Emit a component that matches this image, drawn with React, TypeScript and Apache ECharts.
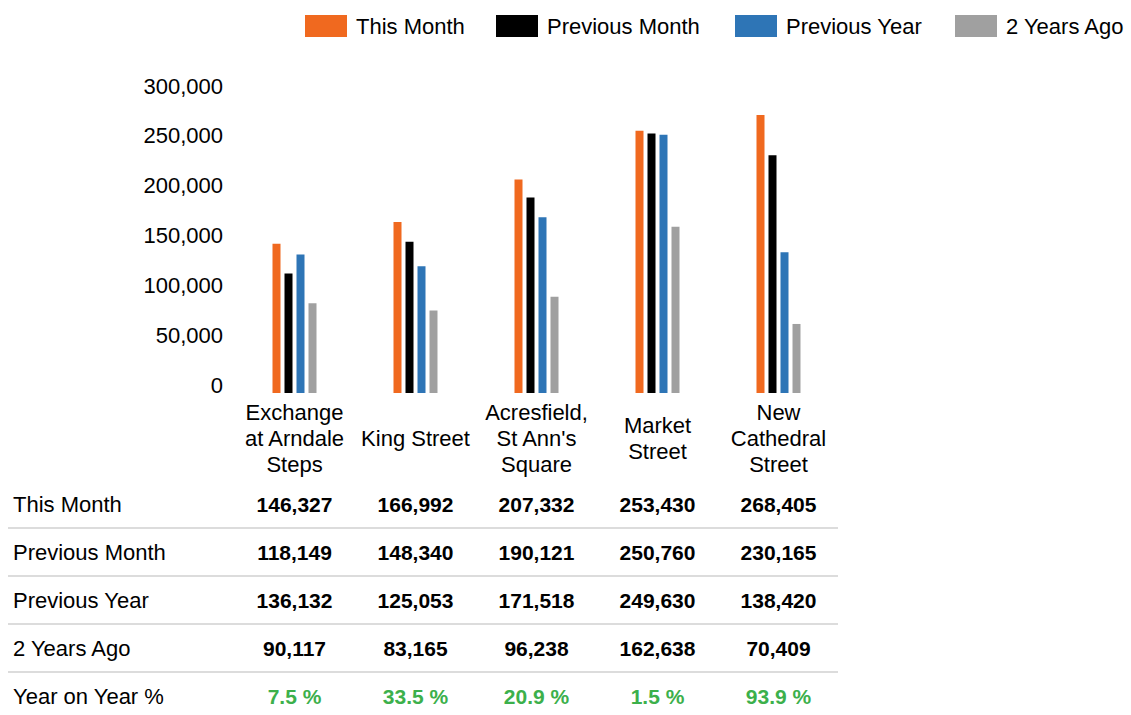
import React, { useEffect, useRef } from "react";
import * as echarts from "echarts";

const categories = [
  "Exchange\nat Arndale\nSteps",
  "King Street",
  "Acresfield,\nSt Ann's\nSquare",
  "Market\nStreet",
  "New\nCathedral\nStreet",
];
const seriesNames = ["This Month", "Previous Month", "Previous Year", "2 Years Ago"];
const thisMonth = [146327, 166992, 207332, 253430, 268405];
const previousMonth = [118149, 148340, 190121, 250760, 230165];
const previousYear = [136132, 125053, 171518, 249630, 138420];
const twoYearsAgo = [90117, 83165, 96238, 162638, 70409];
const yearOnYear = [7.5, 33.5, 20.9, 1.5, 93.9];
const rowLabels = ["This Month", "Previous Month", "Previous Year", "2 Years Ago", "Year on Year %"];

const colors = ["#F0691F", "#000000", "#2E75B6", "#A0A0A0"];
const FONT = "Liberation Sans";
const fmt = (v: number) => v.toLocaleString("en-US");

export default function App() {
  const ref = useRef<HTMLDivElement>(null);
  useEffect(() => {
    document.body.style.margin = "0";
    const chart = echarts.init(ref.current!, null, { renderer: "svg" });
    const seriesData = [thisMonth, previousMonth, previousYear, twoYearsAgo];
    const legendLefts = [305, 496, 735, 955];
    chart.setOption({
      animation: false,
      backgroundColor: "#ffffff",
      legend: seriesNames.map((name, i) => ({
        data: [name],
        left: legendLefts[i],
        top: 15,
        padding: 0,
        itemWidth: 42,
        itemHeight: 22,
        icon: "rect",
        textStyle: { fontFamily: FONT, fontSize: 22, color: "#000", padding: [0, 0, 0, 4] },
      })),
      grid: { left: 234, right: 292, top: 94, bottom: 322, containLabel: false },
      xAxis: {
        type: "category",
        data: categories,
        axisLine: { show: false },
        axisTick: { show: false },
        axisLabel: {
          interval: 0,
          fontFamily: FONT,
          fontSize: 22,
          lineHeight: 26,
          color: "#000",
          verticalAlign: "middle",
          margin: 45,
        },
      },
      yAxis: [
        {
          type: "value",
          min: 0,
          max: 300000,
          interval: 50000,
          splitLine: { show: false },
          axisLine: { show: false },
          axisTick: { show: false },
          axisLabel: {
            fontFamily: FONT,
            fontSize: 22,
            lineHeight: 16,
            color: "#000",
            margin: 11,
            verticalAlign: "bottom",
            formatter: (v: number) => fmt(v),
          },
        },
        {
          type: "value",
          show: false,
          min: 5000,
          max: 288300,
          splitLine: { show: false },
        },
      ],
      series: seriesNames.map((name, i) => ({
        name,
        type: "bar",
        yAxisIndex: 1,
        clip: true,
        data: seriesData[i],
        barWidth: 8,
        barGap: "50%",
        itemStyle: { color: colors[i] },
      })),
    });

    const xs = categories.map((_, i) => chart.convertToPixel({ xAxisIndex: 0 }, i) as number);
    const rowYs = [504, 552, 600, 648, 696];
    const sepYs = [528, 576, 624, 672];
    const rows: string[][] = [
      thisMonth.map(fmt),
      previousMonth.map(fmt),
      previousYear.map(fmt),
      twoYearsAgo.map(fmt),
      yearOnYear.map((v) => v.toFixed(1) + " %"),
    ];
    const graphics: any[] = [];
    sepYs.forEach((y) =>
      graphics.push({
        type: "line",
        shape: { x1: 8, y1: y, x2: 838, y2: y },
        style: { stroke: "#D0D0D0", lineWidth: 1.5 },
      })
    );
    rowLabels.forEach((label, r) => {
      graphics.push({
        type: "text",
        x: 13,
        y: rowYs[r],
        style: {
          text: label,
          fill: "#000",
          font: `22px "${FONT}"`,
          textAlign: "left",
          textVerticalAlign: "middle",
        },
      });
      rows[r].forEach((t, c) =>
        graphics.push({
          type: "text",
          x: xs[c],
          y: rowYs[r],
          style: {
            text: t,
            fill: r === 4 ? "#3CB04B" : "#000",
            font: `bold 21px "${FONT}"`,
            textAlign: "center",
            textVerticalAlign: "middle",
          },
        })
      );
    });
    chart.setOption({ graphic: graphics });
    return () => chart.dispose();
  }, []);
  return <div ref={ref} style={{ width: 1131, height: 715 }} />;
}
